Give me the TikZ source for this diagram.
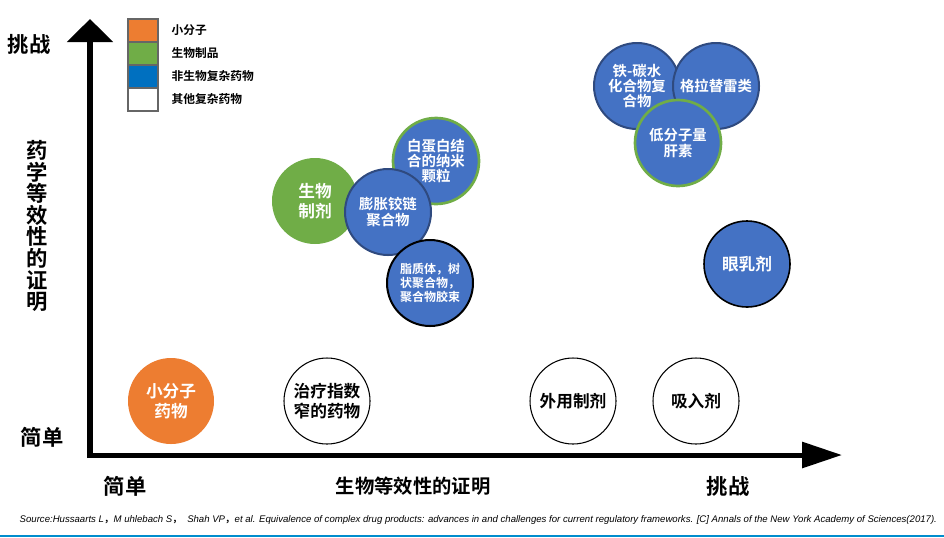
\documentclass[tikz,border=0pt]{standalone}
\usepackage{fontspec}
\setmainfont{Liberation Sans}
\newfontfamily\cjk{Noto Sans CJK SC Bold}
\usetikzlibrary{arrows.meta,positioning}
\definecolor{orng}{HTML}{ED7D31}
\definecolor{grn}{HTML}{70AD47}
\definecolor{lblue}{HTML}{0070C0}
\definecolor{cblue}{HTML}{4472C4}
\definecolor{navy}{HTML}{2F4A7F}
\tikzset{
  bub/.style={circle,minimum size=64.5pt,inner sep=0pt,align=center,text=white,
    font=\cjk\fontsize{10.8}{11.5}\selectfont},
  big/.style={font=\cjk\fontsize{12.5}{15}\selectfont},
  key/.style={draw=gray!80!black,line width=0.9pt,minimum width=22.5pt,minimum height=17.25pt,inner sep=0pt},
  keytext/.style={anchor=west,font=\cjk\fontsize{8.8}{10}\selectfont},
  axtext/.style={font=\cjk\fontsize{16}{16.2}\selectfont}
}
\begin{document}
\begin{tikzpicture}[x=0.75pt,y=-0.75pt,on grid]
\useasboundingbox (0,0) rectangle (944,537);
% axes
\draw[line width=4.5pt,-{Triangle[width=33.75pt,length=17.25pt]}] (90,458) -- (90,19);
\draw[line width=3.75pt,-{Triangle[width=19pt,length=30pt]}] (87,455) -- (842,455);
\node[axtext] (ytop) at (29,44) {挑战};
\node[axtext] (ylow) at (42,437) {简单};
\node[axtext] (xlow) at (125,486) {简单};
\node[axtext] (xtop) at (728,486) {挑战};
\node[font=\cjk\fontsize{14.5}{15}\selectfont] (xlab) at (413,486) {生物等效性的证明};
\node[axtext,align=center] (ylab) at (37,226) {药\\学\\等\\效\\性\\的\\证\\明};
% legend
\node[key,fill=orng] (k1) at (143,30.5) {};
\node[key,fill=grn,below=17.25pt of k1] (k2) {};
\node[key,fill=lblue,below=17.25pt of k2] (k3) {};
\node[key,fill=white,below=17.25pt of k3] (k4) {};
\node[keytext] at (167,30.5) {小分子};
\node[keytext] at (167,53.5) {生物制品};
\node[keytext] at (167,76.5) {非生物复杂药物};
\node[keytext] at (167,99.5) {其他复杂药物};
% bottom row
\node[bub,big,fill=orng] (small) at (171,401) {小分子\\药物};
\node[bub,big,draw,thick,text=black,right=117pt of small] (narrow) {治疗指数\\窄的药物};
\node[bub,big,draw,thick,text=black] (topical) at (573,401) {外用制剂};
\node[bub,big,draw,thick,text=black,right=92.25pt of topical] (inhal) {吸入剂};
% middle group
\node[bub,big,fill=grn] (bio) at (315,201) {生物\\制剂};
\node[bub,fill=cblue,draw=grn,line width=2pt] (albumin) at (436,161) {白蛋白结\\合的纳米\\颗粒};
\node[bub,fill=cblue,draw=navy,line width=1.5pt] (swell) at (388,212) {膨胀铰链\\聚合物};
\node[bub,fill=cblue,draw=black,line width=1.5pt,font=\cjk\fontsize{9}{10.5}\selectfont] (lipo) at (430,283) {脂质体，树\\状聚合物，\\聚合物胶束};
% right group
\node[bub,fill=cblue,draw=navy,line width=1.5pt] (iron) at (637,86) {铁-碳水\\化合物复\\合物};
\node[bub,fill=cblue,draw=navy,line width=1.5pt] (glat) at (716,86) {格拉替雷类};
\node[bub,fill=cblue,draw=grn,line width=2pt] (lmwh) at (678,143) {低分子量\\肝素};
\node[bub,big,fill=cblue,draw=black,line width=1.2pt] (eye) at (747,264) {眼乳剂};
% source
\node[anchor=west,font=\itshape\fontsize{7.2}{8}\selectfont] (src) at (15,520)
  {Source:Hussaarts L{\cjk，}M uhlebach S{\cjk，}\ \ Shah VP{\cjk，}et al. Equivalence of complex drug products: advances in and challenges for current regulatory frameworks. [C] Annals of the New York Academy of Sciences(2017).};
\fill[lblue!80!cyan] (0,535) rectangle (944,537);
\end{tikzpicture}
\end{document}
